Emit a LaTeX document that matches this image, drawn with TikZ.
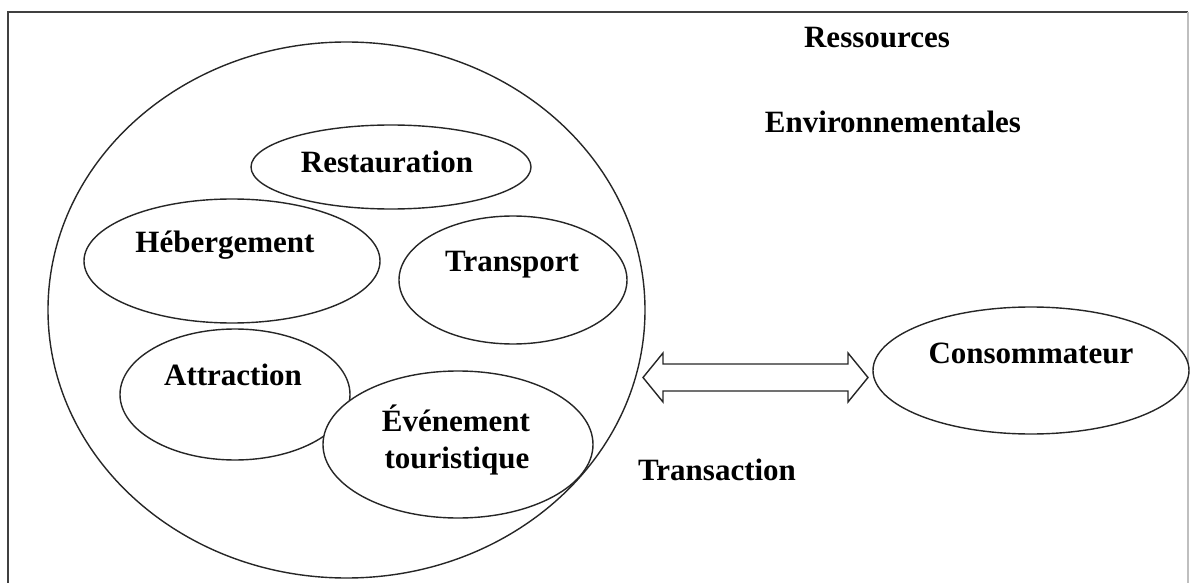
\documentclass[tikz,border=0pt]{standalone}
\usepackage{fontspec}
\setmainfont{Liberation Serif}
\usetikzlibrary{shapes.geometric,calc}
\begin{document}
\begin{tikzpicture}[x=0.5pt,y=-0.5pt,
  bubble/.style={ellipse,draw=black!85,line width=0.7pt,fill=white,inner sep=0pt},
  lbl/.style={anchor=base,inner sep=0pt,font=\fontsize{15.5}{18}\selectfont\bfseries},
  frameline/.style={line width=1pt,draw=black!75}]
\useasboundingbox (0,0) rectangle (1190,583);
% frame
\coordinate (fBL) at (8,590);
\coordinate (fTL) at (8,12);
\coordinate (fTR) at (1188,12);
\coordinate (fBR) at (1188,590);
\draw[frameline] (fBL) -- (fTL) -- (fTR);
\draw[line width=0.6pt,draw=black!25] (fTR) -- (fBR);
% big circle
\node[bubble,minimum width=298.5pt,minimum height=268pt] (world) at (346.5,310) {};
% inner ellipses
\node[bubble,minimum width=148pt,minimum height=62pt] (heb) at (232,261) {};
\node[bubble,minimum width=140pt,minimum height=42pt] (rest) at (391,167) {};
\node[bubble,minimum width=114pt,minimum height=64pt] (trans) at (513,280) {};
\node[bubble,minimum width=115pt,minimum height=65.5pt] (attr) at (235,394.5) {};
\node[bubble,minimum width=135pt,minimum height=73.5pt] (event) at (458,444.5) {};
\node[bubble,minimum width=158pt,minimum height=63.5pt] (cons) at (1031,370.5) {};
% labels
\node[lbl] (tRes) at (877,48) {Ressources};
\node[lbl] (tEnv) at (893,133) {Environnementales};
\node[lbl] (tRest) at (387,173) {Restauration};
\node[lbl] (tHeb) at (225,252) {Hébergement};
\node[lbl] (tTrans) at (512,271) {Transport};
\node[lbl] (tAttr) at (233,385) {Attraction};
\node[lbl] (tEv1) at (456,431) {Événement};
\node[lbl] (tEv2) at (457,468) {touristique};
\node[lbl] (tCons) at (1031,363) {Consommateur};
\node[lbl] (tTx) at (717,480) {Transaction};
% double block arrow
\coordinate (aL) at (643,377.5);
\coordinate (aR) at (868,377.5);
\draw[line width=0.7pt,draw=black!85,fill=white]
  (aL) -- ($(aL)+(20,-24.5)$) -- ($(aL)+(20,-13.5)$) -- ($(aR)+(-20,-13.5)$)
  -- ($(aR)+(-20,-24.5)$) -- (aR) -- ($(aR)+(-20,24.5)$) -- ($(aR)+(-20,13.5)$)
  -- ($(aL)+(20,13.5)$) -- ($(aL)+(20,24.5)$) -- cycle;
\end{tikzpicture}
\end{document}
